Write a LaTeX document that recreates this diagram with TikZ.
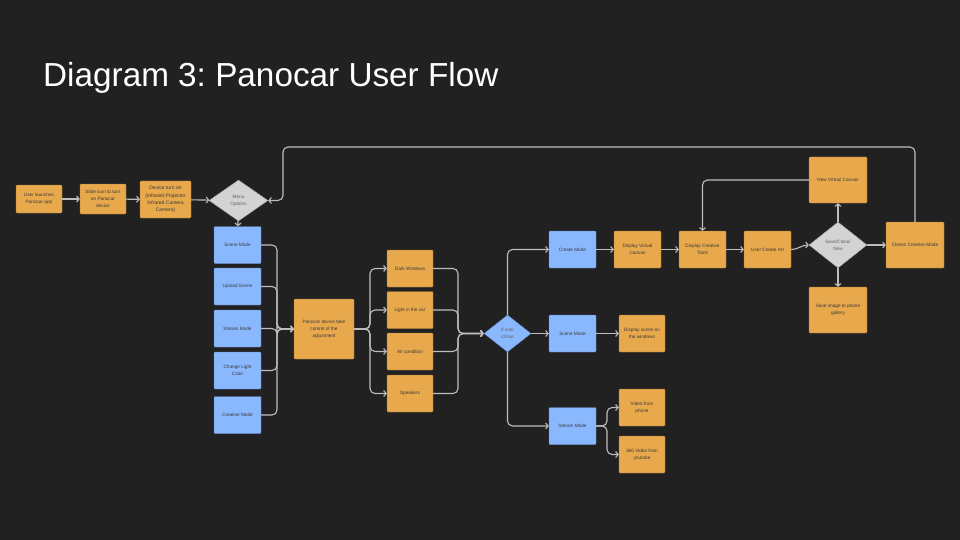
\documentclass[tikz,border=0pt]{standalone}
\usepackage{fontspec}
\setmainfont{Liberation Sans}
\usepackage{tikz}
\usetikzlibrary{shapes.geometric,arrows.meta}
\usepackage{xcolor}
\definecolor{bg}{RGB}{33,33,33}
\definecolor{orangebox}{RGB}{232,168,76}
\definecolor{bluebox}{RGB}{138,184,255}
\definecolor{graybox}{RGB}{211,211,211}
\definecolor{wire}{RGB}{190,190,190}
\definecolor{ink}{RGB}{58,58,58}
\frenchspacing

\begin{document}
\begin{tikzpicture}[x=1pt, y=-1pt,
        box/.style={draw=#1!75!black, fill=#1, line width=0.4pt, rounded corners=1pt,
            minimum width=46pt, minimum height=37pt, inner sep=1pt, align=center,
            text=ink, font=\fontsize{4.7}{7}\selectfont},
        box/.default=orangebox,
        choice/.style={diamond, draw=#1!75!black, fill=#1, line width=0.4pt,
            inner sep=0pt, align=center, text=ink!80, font=\fontsize{4.7}{7}\selectfont},
        flow/.style={draw=wire, line width=1.1pt, rounded corners=5pt,
            -{Straight Barb[length=2.5pt,width=6pt]}}]

        \fill[bg] (0,0) rectangle (960,540);
        \useasboundingbox (0,0) rectangle (960,540);

        \node[anchor=base west, text=white, inner sep=0pt, font=\fontsize{33.3}{36}\selectfont]
            (title) at (43,87) {Diagram 3: Panocar User Flow};

        \node[box, minimum height=28pt] (launch) at (39,199) {User launches\\Panocar app};
        \node[box, minimum height=30pt] (slide) at (103,199) {Slide icon to turn\\on Panocar\\device};
        \node[box, minimum width=51pt, font=\fontsize{5}{7.3}\selectfont] (device) at (165.5,199.5)
            {Device turn on\\(Infrared Projector\\Infrared Camera\\Camera)};
        \node[choice=graybox, minimum width=59pt, minimum height=41pt] (menu) at (238.5,200.5) {Menu\\Options};

        \node[box=bluebox, minimum width=47pt] (scene1) at (237.5,245) {Scene Mode};
        \node[box=bluebox, minimum width=47pt] (upload) at (237.5,286.5) {Upload Scene};
        \node[box=bluebox, minimum width=47pt] (stream1) at (237.5,328.5) {Stream Mode};
        \node[box=bluebox, minimum width=47pt] (light) at (237.5,370.5) {Change Light\\Color};
        \node[box=bluebox, minimum width=47pt] (creative) at (237.5,415) {Creative Mode};

        \node[box, minimum width=60pt, minimum height=60pt] (panocar) at (324,329)
            {Panocar device take\\control of the\\adjustment};

        \node[box] (dark) at (410,268.5) {Dark Windows};
        \node[box] (carlight) at (410,310) {Light in the car};
        \node[box] (air) at (410,351.5) {Air condition};
        \node[box] (speakers) at (410,393.5) {Speakers};

        \node[choice=bluebox, minimum width=47pt, minimum height=37pt] (chose) at (507.5,333.5) {If user\\chose};

        \node[box=bluebox, minimum width=47pt] (create) at (572.5,249.5) {Create Mode};
        \node[box=bluebox, minimum width=47pt] (scene2) at (572.5,333.5) {Scene Mode};
        \node[box=bluebox, minimum width=47pt] (stream2) at (572.5,426) {Stream Mode};

        \node[box, minimum width=47pt] (canvas) at (637.5,249.5) {Display Virtual\\Canvas};
        \node[box, minimum width=47pt] (tools) at (702.5,249.5) {Display Creative\\Tools};
        \node[box, minimum width=47pt] (art) at (767.5,249.5) {User Create Art};
        \node[choice=graybox, minimum width=58pt, minimum height=46pt] (save) at (838,245) {Save/Close/\\New};
        \node[box, minimum width=58pt, minimum height=46pt] (newcanvas) at (838,180) {New Virtual Canvas};
        \node[box, minimum width=58pt, minimum height=46pt] (gallery) at (838,310) {Save image to phone\\gallery};
        \node[box, minimum width=58pt, minimum height=46pt] (closes) at (915,245) {Closes Creative Mode};

        \node[box] (windows) at (642,333.5) {Display scene on\\the windows};
        \node[box] (phone) at (642,407.5) {Video from\\phone};
        \node[box] (youtube) at (642,454.5) {360 Video from\\youtube};

        \coordinate (merge1) at (277,329);
        \coordinate (split1) at (370,329);
        \coordinate (merge2) at (458,333.5);
        \coordinate (split3) at (607,426);
        \coordinate (loopcorner) at (283,147);

        \draw[flow] (launch) -- (slide);
        \draw[flow] (slide) -- (device);
        \draw[flow] (device) -- (menu);
        \draw[flow] (menu) -- (scene1);

        \draw[flow] (scene1.east) -| (merge1) -- (panocar.west);
        \draw[flow] (upload.east) -| (merge1) -- (panocar.west);
        \draw[flow] (stream1.east) -| (merge1) -- (panocar.west);
        \draw[flow] (light.east) -| (merge1) -- (panocar.west);
        \draw[flow] (creative.east) -| (merge1) -- (panocar.west);

        \draw[flow] (panocar.east) -- (split1) |- (dark.west);
        \draw[flow] (panocar.east) -- (split1) |- (carlight.west);
        \draw[flow] (panocar.east) -- (split1) |- (air.west);
        \draw[flow] (panocar.east) -- (split1) |- (speakers.west);

        \draw[flow] (dark.east) -| (merge2) -- (chose.west);
        \draw[flow] (carlight.east) -| (merge2) -- (chose.west);
        \draw[flow] (air.east) -| (merge2) -- (chose.west);
        \draw[flow] (speakers.east) -| (merge2) -- (chose.west);

        \draw[flow] (chose.north) |- (create.west);
        \draw[flow] (chose.east) -- (scene2.west);
        \draw[flow] (chose.south) |- (stream2.west);

        \draw[flow] (create) -- (canvas);
        \draw[flow] (canvas) -- (tools);
        \draw[flow] (tools) -- (art);
        \draw[flow] (art.east) to[out=0, in=180] (save.west);
        \draw[flow] (save.north) -- (newcanvas.south);
        \draw[flow] (save.south) -- (gallery.north);
        \draw[flow] (save.east) -- (closes.west);
        \draw[flow] (newcanvas.west) -| (tools.north);
        \draw[flow] (closes.north) |- (loopcorner) |- (menu.east);

        \draw[flow] (scene2) -- (windows);
        \draw[flow] (stream2.east) -- (split3) |- (phone.west);
        \draw[flow] (stream2.east) -- (split3) |- (youtube.west);

\end{tikzpicture}
\end{document}
